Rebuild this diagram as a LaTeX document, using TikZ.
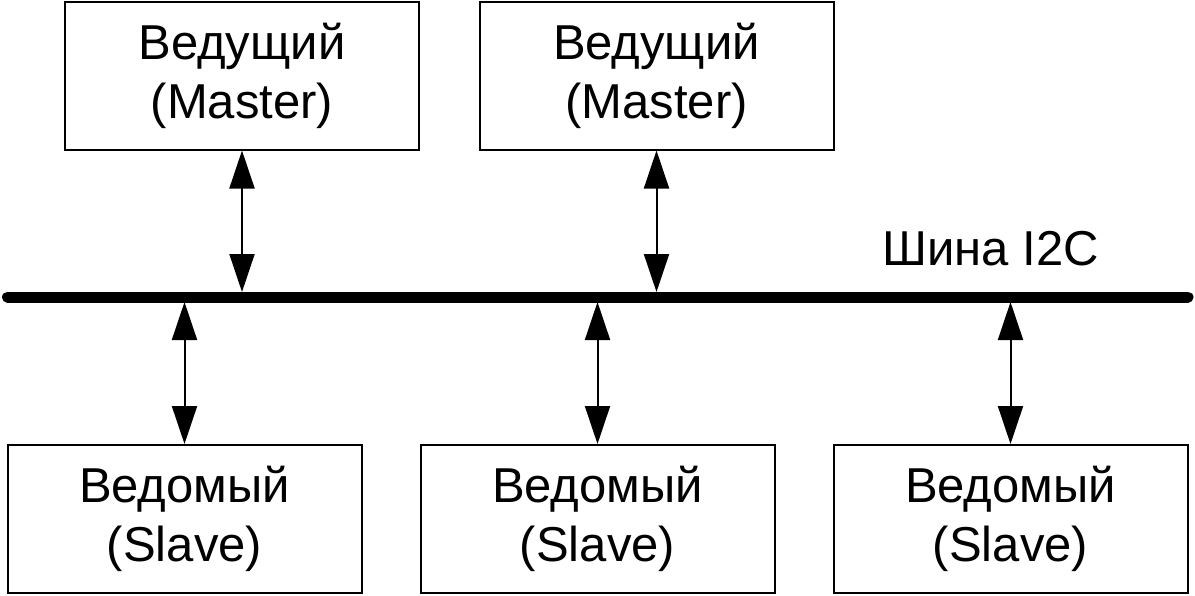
\documentclass[tikz,border=0pt]{standalone}
\usepackage{fontspec}
\setmainfont{Liberation Sans}
\usetikzlibrary{arrows.meta}
\begin{document}
\begin{tikzpicture}[x=1pt,y=-1pt,
  unit/.style={draw=black,line width=2pt,minimum width=354pt,minimum height=148pt,
    inner sep=0pt,align=center,font=\fontsize{49}{59}\selectfont},
  bus/.style={line width=11pt,line cap=round},
  link/.style={line width=2pt,{Triangle[length=38pt,width=25pt]}-{Triangle[length=38pt,width=25pt]}, shorten <=-0.5pt, shorten >=-0.5pt}]
\useasboundingbox (0,0) rectangle (1195,595);
\node[unit] (m1) at (242,76) {Ведущий\\(Master)};
\node[unit] (m2) at (656.5,76) {Ведущий\\(Master)};
\node[unit] (s1) at (184.5,518.5) {Ведомый\\(Slave)};
\node[unit] (s2) at (597.5,518.5) {Ведомый\\(Slave)};
\node[unit] (s3) at (1010.5,518.5) {Ведомый\\(Slave)};
\coordinate (busL) at (7.5,297);
\coordinate (busR) at (1188,297);
\draw[bus] (busL) -- (busR);
\node[anchor=base west,inner sep=0pt,font=\fontsize{49}{59}\selectfont] (lbl) at (882,265) {Шина I2C};
\coordinate (bt1) at (242,291.5);
\coordinate (bt2) at (656.5,291.5);
\coordinate (bb1) at (184.5,302.5);
\coordinate (bb2) at (597.5,302.5);
\coordinate (bb3) at (1010.5,302.5);
\draw[link] (m1.south) -- (bt1);
\draw[link] (m2.south) -- (bt2);
\draw[link] (bb1) -- (s1.north);
\draw[link] (bb2) -- (s2.north);
\draw[link] (bb3) -- (s3.north);
\end{tikzpicture}
\end{document}
